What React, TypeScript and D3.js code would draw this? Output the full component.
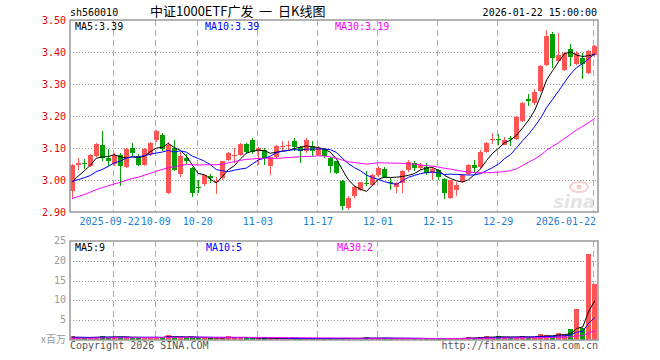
import React from "react";
import * as d3 from "d3";

// ---- data ----
const opens = [
  2.965, 3.048, 3.052, 3.043, 3.076, 3.110, 3.069, 3.050, 3.079, 3.041,
  3.100, 3.076, 3.048, 3.080, 3.124, 3.142, 2.960, 3.100, 3.020, 3.068,
  3.037, 2.978, 2.986, 3.012, 2.995, 3.006, 3.063, 3.075, 3.078, 3.112,
  3.125, 3.091, 3.095, 3.043, 3.071, 3.104, 3.107, 3.121, 3.102, 3.090,
  3.105, 3.079, 3.098, 3.069, 3.058, 2.996, 2.912, 2.950, 2.970, 2.992,
  2.985, 3.016, 3.035, 2.995, 2.977, 2.990, 3.030, 3.053, 3.037, 3.040,
  3.022, 3.030, 3.003, 2.943, 2.970, 2.997, 3.018, 3.047, 3.040, 3.088,
  3.125, 3.129, 3.110, 3.131, 3.128, 3.185, 3.252, 3.240, 3.279, 3.359,
  3.456, 3.372, 3.345, 3.408, 3.362, 3.382, 3.334, 3.390,
];
const highs = [
  3.050, 3.069, 3.066, 3.082, 3.115, 3.152, 3.098, 3.085, 3.084, 3.100,
  3.116, 3.080, 3.100, 3.120, 3.156, 3.146, 3.118, 3.125, 3.088, 3.080,
  3.040, 3.000, 3.020, 3.020, 3.010, 3.060, 3.087, 3.099, 3.115, 3.115,
  3.130, 3.102, 3.100, 3.073, 3.108, 3.121, 3.123, 3.130, 3.105, 3.130,
  3.123, 3.105, 3.100, 3.072, 3.060, 3.000, 2.950, 2.982, 2.995, 3.029,
  3.020, 3.043, 3.040, 3.006, 2.995, 3.030, 3.063, 3.058, 3.053, 3.053,
  3.037, 3.035, 3.005, 3.000, 2.995, 3.020, 3.050, 3.063, 3.095, 3.120,
  3.146, 3.143, 3.135, 3.136, 3.200, 3.245, 3.268, 3.285, 3.360, 3.468,
  3.462, 3.460, 3.400, 3.424, 3.402, 3.398, 3.405, 3.422,
];
const lows = [
  2.940, 3.032, 3.035, 3.040, 3.072, 3.060, 3.043, 3.045, 2.982, 3.038,
  3.074, 3.044, 3.045, 3.076, 3.120, 3.090, 2.955, 3.028, 3.010, 3.050,
  2.948, 2.958, 2.980, 2.990, 2.955, 3.000, 3.060, 3.052, 3.075, 3.080,
  3.080, 3.048, 3.048, 3.017, 3.065, 3.090, 3.095, 3.090, 3.053, 3.085,
  3.074, 3.074, 3.070, 3.022, 3.018, 2.907, 2.907, 2.943, 2.965, 2.980,
  2.980, 3.010, 3.005, 2.970, 2.960, 2.960, 3.025, 3.027, 3.030, 3.015,
  3.000, 3.000, 2.940, 2.940, 2.950, 2.990, 3.015, 3.022, 3.035, 3.085,
  3.112, 3.110, 3.108, 3.105, 3.126, 3.180, 3.232, 3.235, 3.275, 3.355,
  3.351, 3.368, 3.340, 3.357, 3.358, 3.316, 3.330, 3.385,
];
const closes = [
  3.048, 3.053, 3.049, 3.079, 3.111, 3.068, 3.058, 3.079, 3.045, 3.096,
  3.085, 3.048, 3.097, 3.116, 3.152, 3.097, 3.110, 3.032, 3.075, 3.060,
  2.958, 2.975, 3.016, 3.006, 2.998, 3.058, 3.083, 3.077, 3.112, 3.089,
  3.089, 3.100, 3.069, 3.071, 3.105, 3.106, 3.109, 3.102, 3.090, 3.126,
  3.090, 3.100, 3.074, 3.043, 3.022, 2.918, 2.944, 2.979, 2.993, 2.988,
  3.016, 3.037, 3.009, 2.990, 2.992, 3.027, 3.055, 3.037, 3.047, 3.022,
  3.034, 3.010, 2.958, 3.000, 2.985, 3.016, 3.047, 3.039, 3.089, 3.116,
  3.128, 3.126, 3.125, 3.128, 3.196, 3.240, 3.248, 3.276, 3.356, 3.449,
  3.382, 3.390, 3.397, 3.385, 3.396, 3.362, 3.402, 3.420,
];
// volume, millions of shares
const volumes = [
  0.9, 0.6, 0.5, 0.6, 0.8, 1.1, 0.6, 0.7, 0.8, 0.7,
  0.6, 0.5, 0.6, 0.7, 0.8, 0.6, 1.25, 0.8, 0.7, 0.5,
  0.8, 0.5, 0.5, 0.4, 0.5, 0.6, 1.0, 0.5, 0.6, 0.5,
  0.4, 0.5, 0.4, 0.5, 0.4, 0.3, 0.3, 0.4, 0.3, 0.4,
  0.3, 0.3, 0.3, 0.4, 0.4, 0.6, 0.4, 0.3, 0.4, 0.75,
  0.4, 0.5, 0.4, 0.3, 0.4, 0.5, 0.4, 0.3, 0.3, 0.3,
  0.3, 0.3, 0.5, 0.4, 0.3, 0.5, 0.75, 0.6, 0.8, 0.9,
  0.6, 1.0, 0.7, 0.6, 0.8, 0.9, 0.7, 0.8, 1.5, 1.2,
  1.1, 1.75, 1.2, 2.75, 7.8, 3.0, 21.8, 14.2,
];
// sessions before the visible window (estimated so the moving averages start where the picture shows)
const warmupCloses = [
  2.86, 2.87, 2.85, 2.88, 2.89, 2.87, 2.90, 2.91, 2.89, 2.92,
  2.93, 2.91, 2.94, 2.95, 2.93, 2.94, 2.96, 2.95, 2.97, 2.98,
  3.00, 2.99, 3.01, 2.99, 3.00, 2.96, 2.97, 2.99, 3.00,
];
const warmupVolumes = [
  0.3, 0.4, 0.3, 0.35, 0.4, 0.3, 0.35, 0.3, 0.4, 0.35,
  0.3, 0.4, 0.35, 0.3, 0.4, 0.35, 0.4, 0.3, 0.35, 0.4,
  0.6, 0.7, 0.6, 0.7, 0.6, 0.7, 0.6, 0.7, 0.6,
];

const tickIndex = [7, 14, 21, 31, 41, 51, 61, 71, 87];
const tickLabels = ["2025-09-22", "10-09", "10-20", "11-03", "11-17", "12-01", "12-15", "12-29", "2026-01-22"];
const priceTicks = [3.5, 3.4, 3.3, 3.2, 3.1, 3.0, 2.9];
const volTicks = [25, 20, 15, 10, 5];
const maPeriods = [5, 10, 30];

const symbol = "sh560010";
const titleParts = ["中证1000ETF广发", "一", "日K线图"];
const stamp = "2026-01-22 15:00:00";

// ---- layout ----
const W = 660;
const H = 360;
const L = 70;
const R = 598;
const mTop = 20;
const mBot = 212;
const vTop = 241;
const vBot = 340;

const RED = "#ff5555";
const GREEN = "#00a000";
const MA_COLORS = ["#000000", "#0000ff", "#ff00ff"];
const MONO = "'DejaVu Sans Mono', 'Liberation Mono', monospace";
const CJK = "'Noto Sans CJK SC', sans-serif";

function movingAvg(warm: number[], vals: number[], n: number): number[] {
  const all = warm.concat(vals);
  const off = warm.length;
  return vals.map((_, i) => d3.mean(all.slice(off + i - n + 1, off + i + 1)) as number);
}

export default function App() {
  const N = closes.length;
  const x = d3.scaleLinear().domain([0, N - 1]).range([70.65, 593.3]);
  const y = d3.scaleLinear().domain([2.9, 3.5]).range([mBot, mTop]);
  const yv = d3.scaleLinear().domain([0, 25]).range([vBot, vTop]);
  const cx = (i: number) => x(i) + 1.5;
  const bodyX = (i: number) => Math.round(cx(i) - 2.5);

  const priceMA = maPeriods.map((p) => movingAvg(warmupCloses, closes, p));
  const volMA = maPeriods.map((p) => movingAvg(warmupVolumes, volumes, p));

  const lineP = d3.line<number>().x((_, i) => cx(i)).y((d) => y(d));
  const lineV = d3.line<number>().x((_, i) => cx(i)).y((d) => yv(d));

  const isUp = (i: number) => closes[i] >= opens[i];

  return (
    <svg
      width={W}
      height={H}
      style={{ position: "fixed", left: 0, top: 0, background: "#fff" }}
      fontFamily={MONO}
    >
      <rect x={0} y={0} width={W} height={H} fill="#fff" />
      {/* header */}
      <text x={70} y={16} fontSize={10} fill="#000">{symbol}</text>
      <text x={150} y={16} fontSize={13} fill="#000" fontFamily={CJK}>{titleParts[0]}</text>
      <text x={259} y={16} fontSize={13} fill="#000" fontFamily={CJK}>{titleParts[1]}</text>
      <text x={278} y={16} fontSize={13} fill="#000" fontFamily={CJK}>{titleParts[2]}</text>
      <text x={597} y={16} fontSize={10} fill="#000" textAnchor="end">{stamp}</text>

      {/* grid main */}
      {priceTicks.slice(1, -1).map((t) => (
        <line key={"hp" + t} x1={L} x2={R} y1={Math.round(y(t)) + 0.5} y2={Math.round(y(t)) + 0.5}
          stroke="#999" strokeDasharray="1,2" />
      ))}
      {volTicks.slice(1).map((t) => (
        <line key={"hv" + t} x1={L} x2={R} y1={Math.round(yv(t)) + 0.5} y2={Math.round(yv(t)) + 0.5}
          stroke="#999" strokeDasharray="1,2" />
      ))}
      {tickIndex.map((ti) => (
        <g key={"vg" + ti}>
          <line x1={Math.round(x(ti)) + 0.5} x2={Math.round(x(ti)) + 0.5} y1={mTop} y2={mBot}
            stroke="#aaa" strokeDasharray="6,4" />
          <line x1={Math.round(x(ti)) + 0.5} x2={Math.round(x(ti)) + 0.5} y1={vTop} y2={vBot}
            stroke="#aaa" strokeDasharray="6,4" />
        </g>
      ))}

      {/* watermark */}
      <g opacity={0.55}>
        <ellipse cx={579} cy={187} rx={9} ry={5} fill="none" stroke="#f0a8a8" strokeWidth={2} />
        <circle cx={579} cy={187} r={2.5} fill="#f0a8a8" />
        <text x={595} y={208} fontSize={18} fontStyle="italic" fontWeight="bold" fill="#cfcfcf"
          textAnchor="end" fontFamily="'DejaVu Sans', sans-serif">sina</text>
      </g>

      {/* candles */}
      {closes.map((c, i) => {
        const col = isUp(i) ? RED : GREEN;
        const top = y(Math.max(opens[i], c));
        const bot = y(Math.min(opens[i], c));
        const bx = bodyX(i);
        return (
          <g key={"c" + i} shapeRendering="crispEdges">
            <line x1={bx + 2.5} x2={bx + 2.5} y1={Math.round(y(highs[i]))} y2={Math.round(y(lows[i]))} stroke={col} />
            <rect x={bx} y={Math.round(top)} width={5} height={Math.max(1, Math.round(bot) - Math.round(top))} fill={col} />
          </g>
        );
      })}
      {priceMA.map((m, k) => (
        <path key={"pm" + k} d={lineP(m) || ""} fill="none" stroke={MA_COLORS[k]} strokeWidth={1} />
      ))}

      {/* volume bars */}
      {volumes.map((v, i) => (
        <rect key={"v" + i} x={bodyX(i)} y={yv(v)} width={5} height={vBot - yv(v)}
          fill={isUp(i) ? RED : GREEN} shapeRendering="crispEdges" />
      ))}
      {volMA.map((m, k) => (
        <path key={"vm" + k} d={lineV(m) || ""} fill="none" stroke={MA_COLORS[k]} strokeWidth={1} />
      ))}

      {/* frames */}
      <rect x={L} y={mTop} width={R - L} height={mBot - mTop} fill="none" stroke="#999" strokeWidth={1.5} />
      <rect x={L} y={vTop} width={R - L} height={vBot - vTop} fill="none" stroke="#999" strokeWidth={1.5} />

      {/* legends */}
      {maPeriods.map((p, k) => (
        <text key={"lp" + p} x={[75, 205, 335][k]} y={30} fontSize={10} fill={MA_COLORS[k]}>
          {`MA${p}:${priceMA[k][N - 1].toFixed(2)}`}
        </text>
      ))}
      {maPeriods.map((p, k) => (
        <text key={"lv" + p} x={[75, 206, 337][k]} y={251} fontSize={10} fill={MA_COLORS[k]}>
          {`MA${p}:${Math.floor(volMA[k][N - 1])}`}
        </text>
      ))}

      {/* price axis labels */}
      {priceTicks.map((t) => (
        <text key={"pt" + t} x={66} y={y(t) + 1} fontSize={10} fill="#ee0000" textAnchor="end"
          dominantBaseline="middle">{t.toFixed(2)}</text>
      ))}
      {volTicks.map((t) => (
        <text key={"vt" + t} x={66} y={yv(t)} fontSize={10} fill="#999" textAnchor="end"
          dominantBaseline="middle">{t}</text>
      ))}
      <text x={66} y={vBot} fontSize={10} fill="#999" textAnchor="end" dominantBaseline="middle"
        fontFamily={CJK}>x百万</text>

      {/* date labels */}
      {tickIndex.map((ti, k) => {
        const last = k === tickIndex.length - 1;
        const first = k === 0;
        return (
          <text key={"dl" + ti} x={last ? 596 : first ? x(ti) - 3 : x(ti) + 1} y={225} fontSize={10}
            fill="#1a7fd0" textAnchor={last ? "end" : "middle"}>{tickLabels[k]}</text>
        );
      })}

      {/* footer */}
      <text x={70} y={349} fontSize={10} fill="#555">Copyright 2026 SINA.COM</text>
      <text x={598} y={349} fontSize={10} fill="#555" textAnchor="end">http://finance.sina.com.cn</text>
    </svg>
  );
}
